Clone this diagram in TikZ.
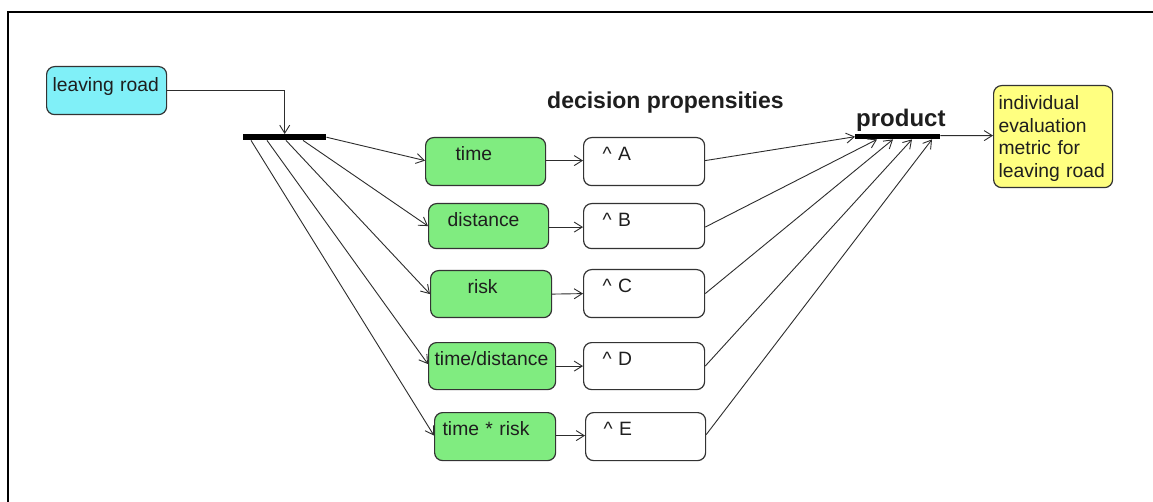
\documentclass[tikz,border=0pt]{standalone}
\usepackage{fontspec}
\setmainfont{Liberation Sans}
\usetikzlibrary{arrows.meta}
\definecolor{cyanfill}{RGB}{128,240,248}
\definecolor{greenfill}{RGB}{128,236,128}
\definecolor{yellowfill}{RGB}{255,255,128}
\definecolor{linegray}{RGB}{45,45,45}
\definecolor{txt}{RGB}{30,30,30}
\begin{document}
\begin{tikzpicture}[x=1pt,y=-1pt,
  font=\fontsize{19.3}{22.7}\selectfont,
  box/.style={draw=black!80, line width=1.2pt, rounded corners=8pt, inner ysep=0pt,
              align=left, anchor=north west, text=txt},
  gbox/.style={box, fill=greenfill},
  wbox/.style={box, fill=white},
  bar/.style={fill=black, draw=none, inner sep=0pt, anchor=north west},
  arr/.style={draw=linegray, line width=0.9pt, -{Straight Barb[length=8pt,width=10pt]}},
  title/.style={font=\bfseries\fontsize{23}{27}\selectfont, anchor=base west, inner sep=0pt, text=txt}
]
\useasboundingbox (0,0) rectangle (1153,502);
\fill[white] (0,0) rectangle (1153,502);
% frame
\draw[line width=2.5pt] (8,502) -- (8,12) -- (1153,12);

% nodes
\node[box, fill=cyanfill, inner xsep=6pt, text width=108pt, text height=25pt, text depth=23pt,
      minimum height=48pt] (leave) at (46,66) {\mbox{leaving road}};
\node[bar, minimum width=83pt, minimum height=6pt] (fork) at (243,134) {};

\node[gbox, inner xsep=30pt, text width=60pt, text height=23pt, text depth=25pt, minimum height=48pt] (g1) at (425,137) {time};
\node[gbox, inner xsep=19pt, text width=82pt, text height=23pt, text depth=22pt, minimum height=45pt] (g2) at (428,203) {distance};
\node[gbox, inner xsep=37pt, text width=47pt, text height=23pt, text depth=24pt, minimum height=47pt] (g3) at (430,270) {risk};
\node[gbox, inner xsep=6pt, text width=115pt, text height=23pt, text depth=24pt, minimum height=47pt] (g4) at (428,342) {\mbox{time/distance}};
\node[gbox, inner xsep=8pt, text width=105pt, text height=23pt, text depth=25pt, minimum height=48pt] (g5) at (434,412) {\mbox{time * risk}};

\node[wbox, inner xsep=19pt, text width=83pt, text height=23pt, text depth=25pt, minimum height=48pt] (wA) at (583,137) {\textasciicircum\ A};
\node[wbox, inner xsep=19pt, text width=83pt, text height=23pt, text depth=22pt, minimum height=45pt] (wB) at (583,203) {\textasciicircum\ B};
\node[wbox, inner xsep=19pt, text width=83pt, text height=23pt, text depth=25pt, minimum height=48pt] (wC) at (583,269) {\textasciicircum\ C};
\node[wbox, inner xsep=19pt, text width=83pt, text height=23pt, text depth=24pt, minimum height=47pt] (wD) at (583,342) {\textasciicircum\ D};
\node[wbox, inner xsep=18pt, text width=84pt, text height=23pt, text depth=25pt, minimum height=48pt] (wE) at (585,412) {\textasciicircum\ E};

\node[title] (dp) at (547,109) {decision propensities};
\node[bar, minimum width=85pt, minimum height=5pt] (prod) at (855,134) {};
\node[title, font=\bfseries\fontsize{24}{28}\selectfont] (prodlbl) at (856,127) {product};

\node[box, fill=yellowfill, inner xsep=5pt, text width=109pt, text height=24pt, text depth=78pt,
      minimum height=102pt] (ylw) at (993,85)
      {\mbox{individual}\\\mbox{evaluation}\\\mbox{metric for}\\\mbox{leaving road}};

% connectors
\draw[arr] (leave.east) -| (fork.north);
\draw[arr] (fork.east) -- ([yshift=1pt]g1.west);
\draw[arr] ([xshift=60pt]fork.south west) -- (g2.west);
\draw[arr] ([xshift=43pt]fork.south west) -- (g3.west);
\draw[arr] ([xshift=24pt]fork.south west) -- ([yshift=2pt]g4.west);
\draw[arr] ([xshift=8pt]fork.south west) -- ([yshift=1pt]g5.west);

\draw[arr] ([yshift=1pt]g1.east) -- ([yshift=1pt]wA.west);
\draw[arr] ([yshift=-1pt]g2.east) -- ([yshift=-1pt]wB.west);
\draw[arr] (g3.east) -- (wC.west);
\draw[arr] (g4.east) -- (wD.west);
\draw[arr] ([yshift=1pt]g5.east) -- ([yshift=1pt]wE.west);

\draw[arr] ([yshift=1pt]wA.east) -- (prod.west);
\draw[arr] ([yshift=-1pt]wB.east) -- ([xshift=22pt]prod.south west);
\draw[arr] (wC.east) -- ([xshift=38pt]prod.south west);
\draw[arr] (wD.east) -- ([xshift=57pt]prod.south west);
\draw[arr] ([yshift=2pt]wE.east) -- ([xshift=77pt]prod.south west);

\draw[arr] ([yshift=1pt]prod.east) -- ([yshift=1pt]ylw.west);
\end{tikzpicture}
\end{document}
